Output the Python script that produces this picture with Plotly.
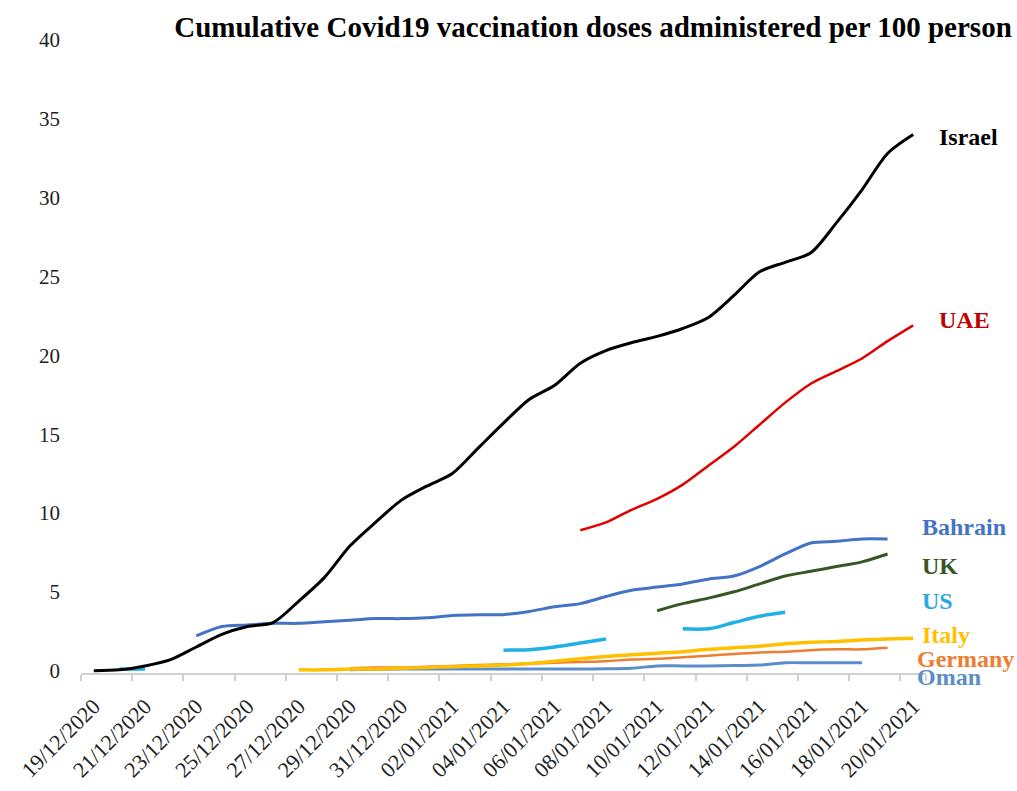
import plotly.graph_objects as go

dates = ["19/12/2020", "20/12/2020", "21/12/2020", "22/12/2020", "23/12/2020", "24/12/2020",
         "25/12/2020", "26/12/2020", "27/12/2020", "28/12/2020", "29/12/2020", "30/12/2020",
         "31/12/2020", "01/01/2021", "02/01/2021", "03/01/2021", "04/01/2021", "05/01/2021",
         "06/01/2021", "07/01/2021", "08/01/2021", "09/01/2021", "10/01/2021", "11/01/2021",
         "12/01/2021", "13/01/2021", "14/01/2021", "15/01/2021", "16/01/2021", "17/01/2021",
         "18/01/2021", "19/01/2021", "20/01/2021"]

N = None
israel = [0.0, 0.05, 0.3, 0.7, 1.5, 2.3, 2.8, 3.05, 4.4, 5.9, 7.9, 9.4, 10.8, 11.7, 12.5, 14.1,
          15.7, 17.2, 18.1, 19.5, 20.3, 20.8, 21.2, 21.7, 22.4, 23.8, 25.3, 25.9, 26.5, 28.4,
          30.5, 32.8, 34.0]
uae = [N] * 19 + [8.9, 9.4, 10.2, 10.9, 11.8, 13.0, 14.2, 15.6, 17.0, 18.2, 19.0, 19.8, 20.9, 21.9]
bahrain = [N] * 4 + [2.2, 2.8, 2.9, 3.0, 3.0, 3.1, 3.2, 3.3, 3.3, 3.35, 3.5, 3.55, 3.55, 3.75,
                     4.05, 4.25, 4.7, 5.1, 5.3, 5.5, 5.8, 6.0, 6.6, 7.4, 8.1, 8.2, 8.35, 8.35, N]
uk = [N] * 22 + [3.8, 4.25, 4.6, 5.0, 5.5, 6.0, 6.3, 6.6, 6.9, 7.4, N]
us = [N, 0.1, 0.1] + [N] * 13 + [1.3, 1.33, 1.5, 1.75, 2.0, N, N, 2.65, 2.65, 3.05, 3.45, 3.7] + [N] * 5
italy = [N] * 8 + [0.05, 0.05, 0.1, 0.1, 0.15, 0.2, 0.25, 0.3, 0.35, 0.45, 0.6, 0.75, 0.9, 1.0,
                   1.1, 1.2, 1.35, 1.45, 1.55, 1.7, 1.8, 1.85, 1.95, 2.0, 2.05]
germany = [N] * 10 + [0.15, 0.2, 0.2, 0.25, 0.3, 0.35, 0.4, 0.45, 0.5, 0.55, 0.6, 0.7, 0.75,
                      0.85, 0.95, 1.05, 1.15, 1.2, 1.3, 1.35, 1.35, 1.45, N]
oman = [N] * 10 + [0.05, 0.08, 0.1, 0.1, 0.1, 0.1, 0.1, 0.1, 0.1, 0.1, 0.12, 0.15, 0.3, 0.3,
                   0.3, 0.33, 0.35, 0.5, 0.5, 0.5, 0.5, N, N]

countries = ["Oman", "Germany", "Italy", "US", "UK", "Bahrain", "UAE", "Israel"]
series = [oman, germany, italy, us, uk, bahrain, uae, israel]
colors = ["#5b8ec9", "#ed7d31", "#ffc000", "#1fb0e6", "#375623", "#4472c4", "#e00000", "#000000"]
widths = [3, 2.5, 3.5, 3.5, 3, 3, 2.5, 3]
label_colors = ["#5b8ec9", "#ed7d31", "#ffc000", "#29a9e0", "#375623", "#4472c4", "#c00000", "#000000"]
label_y = [-0.38, 0.72, 2.25, 4.44, 6.66, 9.13, 22.25, 33.85]
label_x = [915, 915, 920, 920, 920, 920, 937, 937]

FONT = "Liberation Serif, Times New Roman, serif"
YMIN, YMAX = -0.15, 40
L, R, T, B = 81, 91.4, 40, 117.6
W, H = 1017, 791
pw = W - L - R

fig = go.Figure()
for name, ys, c, w in zip(countries, series, colors, widths):
    fig.add_trace(go.Scatter(x=dates, y=ys, mode="lines", name=name,
                             line=dict(color=c, width=w, shape="spline", smoothing=0.8),
                             connectgaps=False, showlegend=False))

annotations = []
for name, c, yv, xp in zip(countries, label_colors, label_y, label_x):
    annotations.append(dict(text=f"<b>{name}</b>", x=(xp - L) / pw, xref="paper",
                            y=(yv - YMIN) / (YMAX - YMIN), yref="paper",
                            xanchor="left", yanchor="middle", showarrow=False,
                            font=dict(family=FONT, size=24, color=c)))

fig.update_layout(
    width=W, height=H,
    margin=dict(l=L, r=R, t=T, b=B),
    paper_bgcolor="white", plot_bgcolor="white",
    title=dict(text="<b>Cumulative Covid19 vaccination doses administered per 100 person</b>",
               x=593 / W, xref="container", xanchor="center",
               y=1 - 27 / H, yref="container", yanchor="middle",
               font=dict(family=FONT, size=29, color="black")),
    annotations=annotations,
    xaxis=dict(type="category", range=[-0.5, 32.5], tickmode="array",
               tickvals=dates[::2], ticktext=dates[::2], tickson="boundaries",
               tickangle=-45, ticks="outside", ticklen=6, tickcolor="#d0d0d0", tickwidth=1.5,
               ticklabelstandoff=10, automargin=False,
               showline=True, linecolor="#d0d0d0", linewidth=1.5, showgrid=False, zeroline=False,
               tickfont=dict(family=FONT, size=22, color="#222")),
    yaxis=dict(range=[YMIN, YMAX], tickmode="linear", tick0=0, dtick=5, showgrid=False,
               zeroline=False, showline=False, ticks="", ticklabelstandoff=20, automargin=False,
               tickfont=dict(family=FONT, size=21, color="#222")),
)

fig.write_html("out.html")
